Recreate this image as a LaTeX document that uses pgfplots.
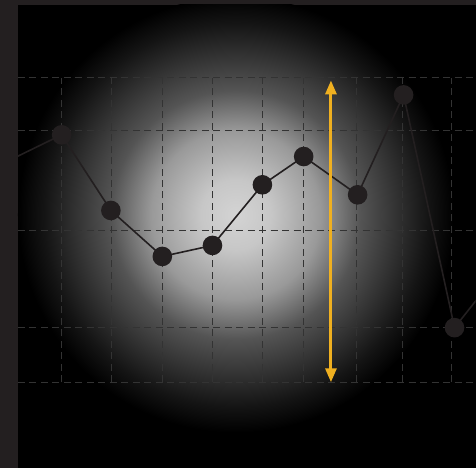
\documentclass[border=0pt]{standalone}
\usepackage{pgfplots}
\pgfplotsset{compat=1.18}
\usetikzlibrary{arrows.meta}
\definecolor{strip}{HTML}{231F20}
\definecolor{dot}{HTML}{231F20}
\definecolor{gridc}{HTML}{333333}
\definecolor{arrowc}{HTML}{F0B020}
\pgfdeclareradialshading{glow}{\pgfpoint{0bp}{0bp}}{%
  color(0bp)=(white!83!black);
  color(4bp)=(white!78!black);
  color(9.7bp)=(white!60!black);
  color(14.3bp)=(white!33!black);
  color(22bp)=(white!8!black);
  color(25bp)=(black);
  color(50bp)=(black)}
\begin{document}
\begin{tikzpicture}[x=1pt,y=1pt]
\fill[strip] (0,0) rectangle (476,468);
\fill[black] (18,0) rectangle (476,463);
\begin{scope}
\clip (18,0) rectangle (476,463);
\shade[shading=glow] (236,253) circle[radius=218pt];
\end{scope}
\begin{axis}[
    at={(18pt,85.3pt)}, anchor=south west,
    scale only axis, width=458pt, height=305pt,
    xmin=18, xmax=476, ymin=85.3, ymax=390.3,
    axis line style={draw=none},
    tick style={draw=none},
    xticklabels={}, yticklabels={},
    xtick={61.7,111.7,162.7,212.7,262.7,304,357.3,403.3,452.3},
    ytick={85.3,139.7,237.3,337.7,390.3},
    grid=major,
    grid style={gridc, line width=1pt, dash pattern=on 7pt off 4.5pt},
    clip=true,
]
\addplot[dot, line width=1.6pt, mark=*, mark size=9pt,
  mark options={fill=dot, draw=none}]
  coordinates {(11,308.3)(61.7,333)(111,257.3)(162.5,211.3)(212.7,222.3)
               (262.7,283)(304,311.3)(358,273)(404,373)(455,140)(500,196.8)};
\addplot[arrowc, line width=3pt,
  {Triangle[width=11pt,length=14pt]}-{Triangle[width=11pt,length=14pt]},
  shorten <=-1pt, shorten >=-1pt]
  coordinates {(331.3,386.5)(331.3,86.3)};
\end{axis}
\end{tikzpicture}
\end{document}
